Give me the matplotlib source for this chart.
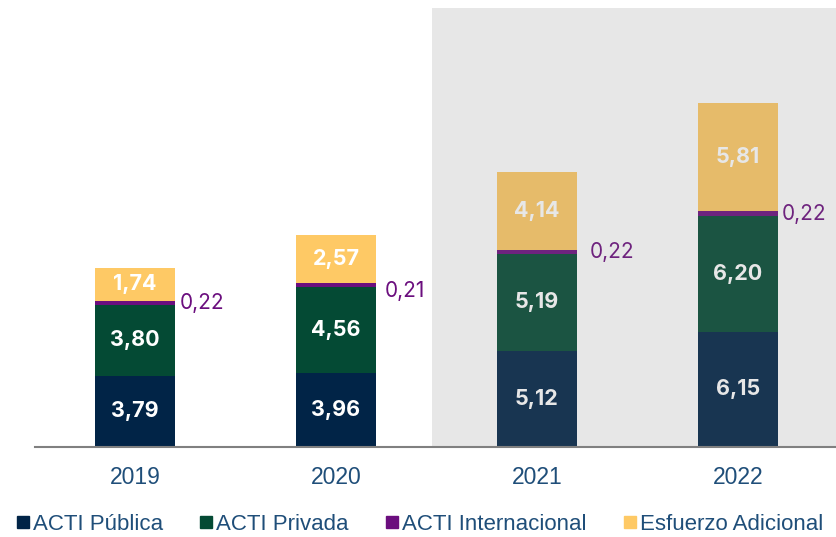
import numpy as np
import matplotlib.pyplot as plt
from matplotlib.patches import Rectangle
from matplotlib.lines import Line2D

years = ['2019', '2020', '2021', '2022']
publica = [3.79, 3.96, 5.12, 6.15]
privada = [3.80, 4.56, 5.19, 6.20]
internacional = [0.22, 0.21, 0.22, 0.22]
adicional = [1.74, 2.57, 4.14, 5.81]
names = ['ACTI Pública', 'ACTI Privada', 'ACTI Internacional', 'Esfuerzo Adicional']

c_pub = '#012447'
c_priv = '#044a34'
c_int = '#6b0e7e'
c_add = '#fec965'
c_txt = '#1f4e79'

def fmt(v):
    return f'{v:.2f}'.replace('.', ',')

fig = plt.figure(figsize=(8.36, 5.37), dpi=100)
ax = fig.add_axes([35/836, 90/537, 801/836, 439/537])

x = np.arange(len(years))
w = 0.4
pub = np.array(publica)
priv = np.array(privada)
intl = np.array(internacional)
add = np.array(adicional)

ax.bar(x, pub, w, color=c_pub, edgecolor='none')
ax.bar(x, priv, w, bottom=pub, color=c_priv, edgecolor='none')
ax.bar(x, intl, w, bottom=pub + priv, color=c_int, edgecolor='none')
ax.bar(x, add, w, bottom=pub + priv + intl, color=c_add, edgecolor='none')

vfont = dict(ha='center', va='center', color='white', fontsize=15.5,
             fontweight='bold', family='Inter')
for i in range(len(years)):
    ax.text(x[i], pub[i] / 2, fmt(pub[i]), **vfont)
    ax.text(x[i], pub[i] + priv[i] / 2, fmt(priv[i]), **vfont)
    ax.text(x[i], pub[i] + priv[i] + intl[i] + add[i] / 2, fmt(add[i]), **vfont)

# purple labels to the right of the thin segment
dx = [3, 6.5, 9.3, 2.5]
dy = [0, -3.8, -0.3, -0.2]
for i in range(len(years)):
    ax.annotate(fmt(intl[i]), (x[i] + w / 2, pub[i] + priv[i] + intl[i] / 2),
                xytext=(dx[i], dy[i]), textcoords='offset points', ha='left', va='center',
                color=c_int, fontsize=15, family='Inter')

ax.set_xlim(-0.4975, 3.4876)
ax.set_ylim(0, 23.43)

# grey overlay on projected years
ax.add_patch(Rectangle((1.478, 0), 3, 30, facecolor='#808080', alpha=0.19,
                       edgecolor='none', zorder=5))

for s in ['top', 'right', 'left']:
    ax.spines[s].set_visible(False)
ax.spines['bottom'].set_color('#808080')
ax.spines['bottom'].set_linewidth(1.5)
ax.spines['bottom'].set_zorder(6)
ax.set_yticks([])
ax.set_xticks(x)
ax.set_xticklabels(years, fontsize=16.5, color=c_txt, family='Liberation Sans')
ax.tick_params(axis='x', length=0, pad=14)

handles = [Line2D([], [], marker='s', linestyle='none', markersize=9, color=c)
           for c in [c_pub, c_priv, c_int, c_add]]
fig.legend(handles, names, loc='lower center', bbox_to_anchor=(0.5, -0.034), ncol=4,
           frameon=False, handletextpad=0.0, columnspacing=1.5, handlelength=0.9,
           prop={'family': 'Liberation Sans', 'size': 16}, labelcolor=c_txt)

fig.savefig('out.png', dpi=100)
